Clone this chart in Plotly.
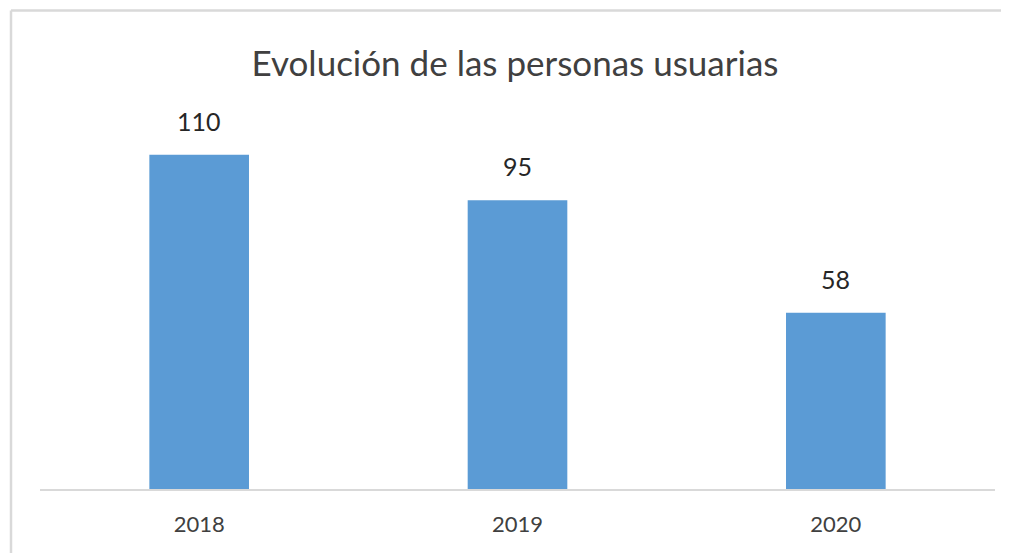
import plotly.graph_objects as go

years = ["2018", "2019", "2020"]
usuarios = [110, 95, 58]
title_text = "Evolución de las personas usuarias"

# the page body adds an 8px offset; layout values below are in figure coords
W, H = 1001, 545
L, R, T, B = 32, 14, 22, 64
pw, ph = W - L - R, H - T - B

pos = list(range(len(years)))

fig = go.Figure()
fig.add_trace(go.Bar(x=pos, y=usuarios, marker_color="#5b9bd5",
                     marker_line_width=0, width=0.313,
                     text=[str(v) for v in usuarios], textposition="none"))

for x, v in zip(pos, usuarios):
    fig.add_annotation(x=x, y=v, xref="x", yref="y", text=str(v), showarrow=False,
                       yanchor="bottom", yshift=17,
                       font=dict(family="Lato", size=25, color="#262626"))

# chart frame: only the top and left edges are visible in the picture
fx0 = (3 - L) / pw
fx1 = (W - L) / pw
fy1 = (H - B - 2.5) / ph
fy0 = (H - B - H) / ph
frame = dict(color="#d9d9d9", width=2.5)
fig.add_shape(type="line", xref="paper", yref="paper",
              x0=fx0, x1=fx1, y0=fy1, y1=fy1, line=frame, layer="below")
fig.add_shape(type="line", xref="paper", yref="paper",
              x0=fx0, x1=fx0, y0=fy0, y1=fy1, line=frame, layer="below")

fig.update_layout(
    width=W, height=H,
    margin=dict(l=L, r=R, t=T, b=B, autoexpand=False),
    paper_bgcolor="white", plot_bgcolor="white",
    showlegend=False,
    title=dict(text=title_text, x=507 / W, xanchor="center",
               y=1 - 56 / H, yanchor="middle",
               font=dict(family="Lato", size=35, color="#404040")),
    xaxis=dict(range=[-0.5, len(years) - 0.5], tickmode="array",
               tickvals=pos, ticktext=years,
               showline=True, linecolor="#d9d9d9", linewidth=1.5,
               ticks="", tickfont=dict(family="Lato", size=22, color="#404040"),
               showgrid=False, zeroline=False, ticklabelstandoff=15),
    yaxis=dict(range=[0, 151], visible=False, showgrid=False, zeroline=False),
)
fig.write_html("out.html")
